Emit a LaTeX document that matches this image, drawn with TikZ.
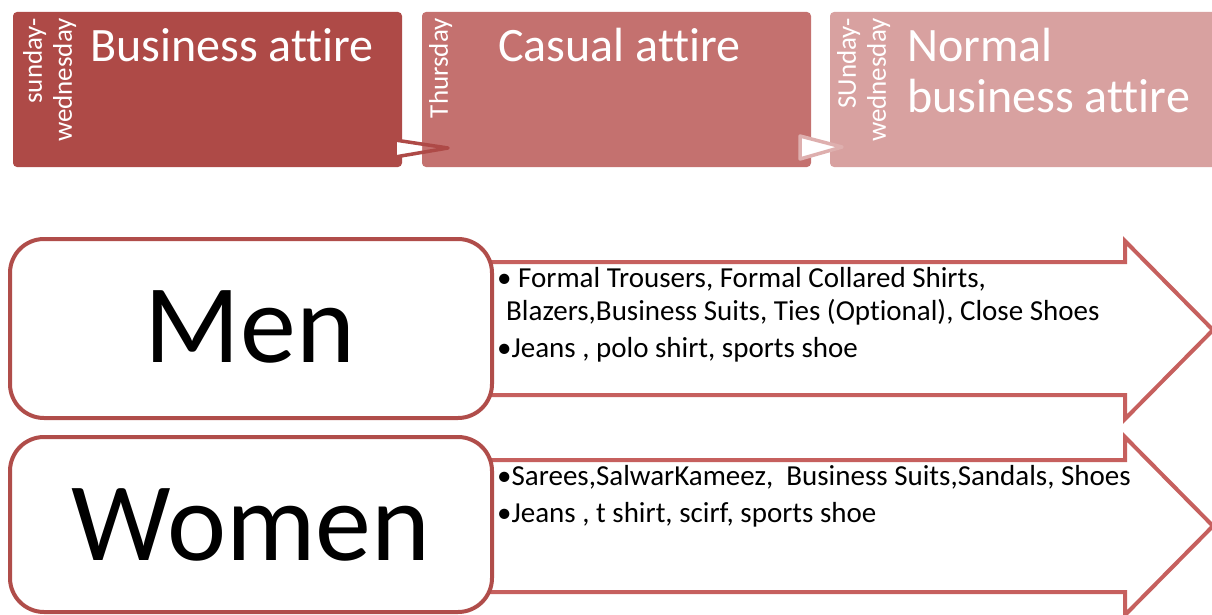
\documentclass[tikz,border=0pt]{standalone}
\usepackage{fontspec}
\setmainfont{Carlito}[Ligatures={NoCommon}]
\usetikzlibrary{calc}
\definecolor{cone}{HTML}{AE4A47}
\definecolor{ctwo}{HTML}{C4716F}
\definecolor{cthree}{HTML}{D8A1A0}
\definecolor{carrow}{HTML}{C6605E}
\definecolor{cbox}{HTML}{B04D4A}
\tikzset{
  topbox/.style={draw=none, rounded corners=4pt, inner sep=0pt},
  daytext/.style={rotate=90, anchor=north east, inner sep=0pt, text=white, font=\fontsize{27}{30}\selectfont, align=right},
  titletext/.style={anchor=base west, inner sep=0pt, text=white, font=\fontsize{48}{50}\selectfont},
  bigarrow/.style={draw=carrow, line width=4pt, fill=white, line join=miter},
  catbox/.style={draw=cbox, line width=4pt, fill=white, rounded corners=34pt},
  cattext/.style={anchor=base, inner sep=0pt, font=\fontsize{112}{112}\selectfont},
  itemtext/.style={anchor=base west, inner sep=0pt, font=\fontsize{29}{32}\selectfont},
}
\begin{document}
\begin{tikzpicture}[x=1pt,y=-1pt]
\useasboundingbox (0,0) rectangle (1212,615);
\clip (0,0) rectangle (1212,615);
% top boxes
\fill[cone, rounded corners=4pt] (13,12) rectangle (402,167);
\fill[ctwo, rounded corners=4pt] (422,12) rectangle (811,167);
\fill[cthree, rounded corners=4pt] (830,12) rectangle (1230,167);
% small arrow 1
\begin{scope}
  \clip (380,100) rectangle (422,200);
  \fill[white] (395,140) -- (448,148) -- (395,157) -- cycle;
\end{scope}
\draw[cone, line width=3.5pt, line join=round] (395,140) -- (448,148) -- (395,157) -- cycle;
% small arrow 2
\draw[cthree!85!white, line width=3.5pt, fill=white, line join=round] (800,136) -- (842,147) -- (800,159) -- cycle;
% top texts
\node[daytext] (d1) at (23,18) {sunday-\\wednesday};
\node[titletext] (t1) at (90,62) {Business attire};
\node[daytext] (d2) at (429,18) {Thursday};
\node[titletext] (t2) at (498,62) {Casual attire};
\node[daytext] (d3) at (837,18) {SUnday-\\wednesday};
\node[titletext] (t3) at (907,62) {Normal};
\node[titletext] (t4) at (907,113) {business attire};
% lower arrows
\draw[bigarrow] (480,262) -- (1125,262) -- (1125,241) -- (1213,330) -- (1125,419) -- (1125,395) -- (480,395) -- cycle;
\draw[bigarrow] (480,460) -- (1125,460) -- (1125,437) -- (1213,526) -- (1125,615) -- (1125,592) -- (480,592) -- cycle;
% category boxes
\draw[catbox] (10,239) rectangle (492,418);
\draw[catbox] (10,437) rectangle (492,612);
\node[cattext] (men) at (250,362) {Men};
\node[cattext] (women) at (251,560) {Women};
% items
\node[itemtext] (m1) at (497,287) {• Formal Trousers, Formal Collared Shirts,};
\node[itemtext] (m2) at (506,320) {Blazers,Business Suits, Ties (Optional), Close Shoes};
\node[itemtext] (m3) at (497,357) {•Jeans , polo shirt, sports shoe};
\node[itemtext] (w1) at (497,485) {•Sarees,SalwarKameez,\ \ Business Suits,Sandals, Shoes};
\node[itemtext] (w2) at (497,522) {•Jeans , t shirt, scirf, sports shoe};
\end{tikzpicture}
\end{document}
